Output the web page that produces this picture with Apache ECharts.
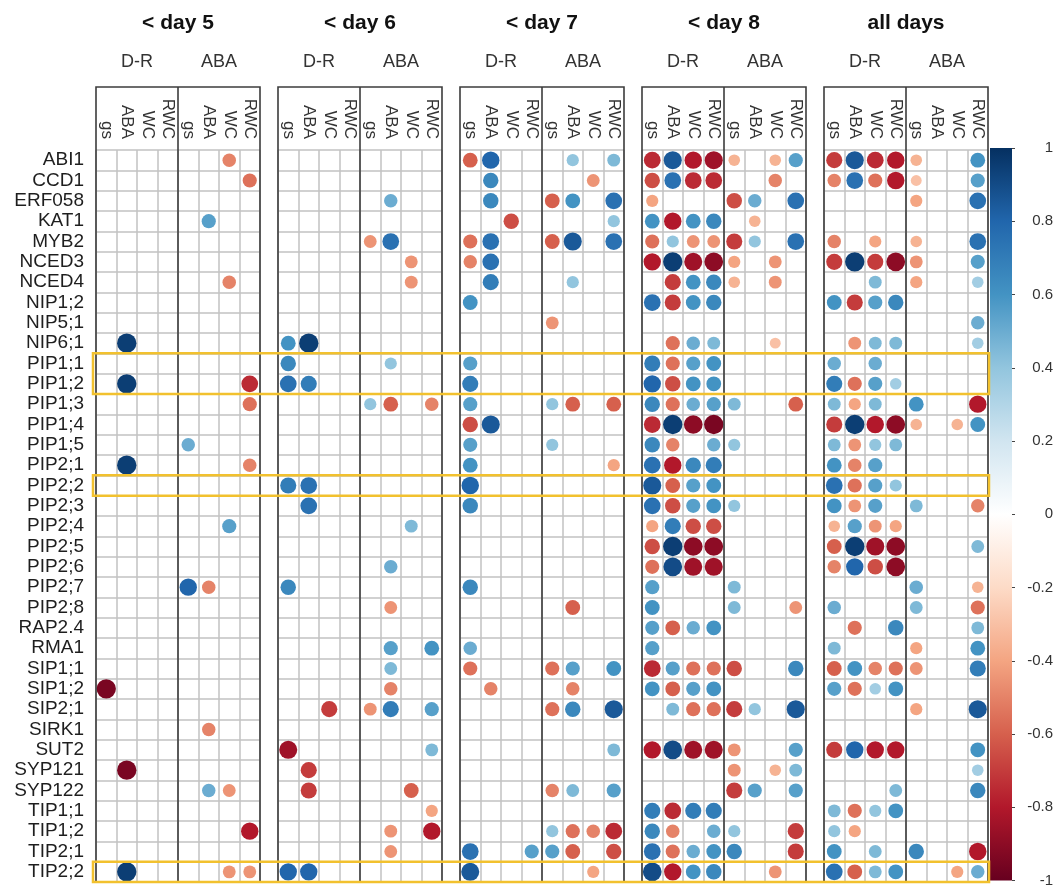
<!DOCTYPE html>
<html>
<head>
<meta charset="utf-8">
<script src="https://cdn.jsdelivr.net/npm/echarts@6.0.0/dist/echarts.min.js"></script>
<style>
  html, body { margin: 0; padding: 0; background: #fff; }
  #chart { width: 1063px; height: 888px; }
</style>
</head>
<body>
<div id="chart"></div>
<script>
// ---- data -------------------------------------------------------------
const genes = ['ABI1','CCD1','ERF058','KAT1','MYB2','NCED3','NCED4','NIP1;2','NIP5;1','NIP6;1',
  'PIP1;1','PIP1;2','PIP1;3','PIP1;4','PIP1;5','PIP2;1','PIP2;2','PIP2;3','PIP2;4','PIP2;5',
  'PIP2;6','PIP2;7','PIP2;8','RAP2.4','RMA1','SIP1;1','SIP1;2','SIP2;1','SIRK1','SUT2',
  'SYP121','SYP122','TIP1;1','TIP1;2','TIP2;1','TIP2;2'];
const periods = ['< day 5', '< day 6', '< day 7', '< day 8', 'all days'];
const treatments = ['D-R', 'ABA'];
const traits = ['gs', 'ABA', 'WC', 'RWC'];
const columns = treatments.flatMap(t => traits.map(v => t + ' ' + v));
const highlightGroups = [['PIP1;1', 'PIP1;2'], ['PIP2;2'], ['TIP2;2']];
const scaleRange = [-1, 1];
const scaleColors = ['#67001f','#b2182b','#d6604d','#f4a582','#fddbc7','#ffffff',
  '#d1e5f0','#92c5de','#4393c3','#2166ac','#053061'];

// correlations: [gene, column (0-3 D-R gs/ABA/WC/RWC, 4-7 ABA gs/ABA/WC/RWC), r]
const day5 = [
  ['ABI1',6,-0.5],['CCD1',7,-0.55],['KAT1',5,0.55],['NCED4',6,-0.5],['NIP6;1',1,0.95],
  ['PIP1;2',1,0.95],['PIP1;2',7,-0.75],['PIP1;3',7,-0.55],['PIP1;5',4,0.5],['PIP2;1',1,0.95],
  ['PIP2;1',7,-0.5],['PIP2;4',6,0.55],['PIP2;7',4,0.8],['PIP2;7',5,-0.5],['SIP1;2',0,-0.95],
  ['SIRK1',5,-0.5],['SYP121',1,-0.95],['SYP122',5,0.5],['SYP122',6,-0.45],['TIP1;2',7,-0.8],
  ['TIP2;2',1,0.95],['TIP2;2',6,-0.45],['TIP2;2',7,-0.45]
];
const day6 = [
  ['ERF058',5,0.5],['MYB2',4,-0.45],['MYB2',5,0.75],['NCED3',6,-0.45],['NCED4',6,-0.45],
  ['NIP6;1',0,0.6],['NIP6;1',1,0.95],['PIP1;1',0,0.65],['PIP1;1',5,0.4],['PIP1;2',0,0.75],
  ['PIP1;2',1,0.7],['PIP1;3',4,0.4],['PIP1;3',5,-0.6],['PIP1;3',7,-0.5],['PIP2;2',0,0.7],
  ['PIP2;2',1,0.75],['PIP2;3',1,0.75],['PIP2;4',6,0.45],['PIP2;6',5,0.5],['PIP2;7',0,0.65],
  ['PIP2;8',5,-0.45],['RMA1',5,0.55],['RMA1',7,0.6],['SIP1;1',5,0.45],['SIP1;2',5,-0.5],
  ['SIP2;1',2,-0.7],['SIP2;1',4,-0.45],['SIP2;1',5,0.7],['SIP2;1',7,0.55],['SUT2',0,-0.85],
  ['SUT2',7,0.45],['SYP121',1,-0.7],['SYP122',1,-0.7],['SYP122',6,-0.6],['TIP1;1',7,-0.4],
  ['TIP1;2',5,-0.45],['TIP1;2',7,-0.8],['TIP2;1',5,-0.45],['TIP2;2',0,0.8],['TIP2;2',1,0.8]
];
const day7 = [
  ['ABI1',0,-0.6],['ABI1',1,0.8],['ABI1',5,0.4],['ABI1',7,0.45],['CCD1',1,0.65],['CCD1',6,-0.45],
  ['ERF058',1,0.65],['ERF058',4,-0.6],['ERF058',5,0.6],['ERF058',7,0.75],['KAT1',2,-0.65],
  ['KAT1',7,0.4],['MYB2',0,-0.55],['MYB2',1,0.75],['MYB2',4,-0.6],['MYB2',5,0.85],['MYB2',7,0.75],
  ['NCED3',0,-0.5],['NCED3',1,0.75],['NCED4',1,0.7],['NCED4',5,0.4],['NIP1;2',0,0.6],
  ['NIP5;1',4,-0.45],['PIP1;1',0,0.55],['PIP1;2',0,0.7],['PIP1;3',0,0.55],['PIP1;3',4,0.4],
  ['PIP1;3',5,-0.6],['PIP1;3',7,-0.6],['PIP1;4',0,-0.65],['PIP1;4',1,0.85],['PIP1;5',0,0.55],
  ['PIP1;5',4,0.4],['PIP2;1',0,0.6],['PIP2;1',7,-0.4],['PIP2;2',0,0.8],['PIP2;3',0,0.65],
  ['PIP2;7',0,0.65],['PIP2;8',5,-0.6],['RMA1',0,0.5],['SIP1;1',0,-0.55],['SIP1;1',4,-0.55],
  ['SIP1;1',5,0.55],['SIP1;1',7,0.6],['SIP1;2',1,-0.5],['SIP1;2',5,-0.5],['SIP2;1',4,-0.55],
  ['SIP2;1',5,0.65],['SIP2;1',7,0.85],['SUT2',7,0.45],['SYP122',4,-0.5],['SYP122',5,0.45],
  ['SYP122',7,0.55],['TIP1;2',4,0.4],['TIP1;2',5,-0.55],['TIP1;2',6,-0.5],['TIP1;2',7,-0.75],
  ['TIP2;1',0,0.75],['TIP2;1',3,0.55],['TIP2;1',4,0.55],['TIP2;1',5,-0.6],['TIP2;1',7,-0.65],
  ['TIP2;2',0,0.85],['TIP2;2',6,-0.4]
];
const day8 = [
  ['ABI1',0,-0.75],['ABI1',1,0.85],['ABI1',2,-0.8],['ABI1',3,-0.85],['ABI1',4,-0.35],['ABI1',6,-0.35],['ABI1',7,0.55],
  ['CCD1',0,-0.65],['CCD1',1,0.75],['CCD1',2,-0.75],['CCD1',3,-0.75],['CCD1',6,-0.5],
  ['ERF058',0,-0.4],['ERF058',4,-0.65],['ERF058',5,0.5],['ERF058',7,0.75],
  ['KAT1',0,0.6],['KAT1',1,-0.8],['KAT1',2,0.6],['KAT1',3,0.65],['KAT1',5,-0.35],
  ['MYB2',0,-0.55],['MYB2',1,0.4],['MYB2',2,-0.45],['MYB2',3,-0.45],['MYB2',4,-0.7],['MYB2',5,0.4],['MYB2',7,0.75],
  ['NCED3',0,-0.8],['NCED3',1,0.95],['NCED3',2,-0.85],['NCED3',3,-0.9],['NCED3',4,-0.4],['NCED3',6,-0.45],
  ['NCED4',1,-0.7],['NCED4',2,0.6],['NCED4',3,0.65],['NCED4',4,-0.35],['NCED4',6,-0.45],
  ['NIP1;2',0,0.75],['NIP1;2',1,-0.7],['NIP1;2',2,0.6],['NIP1;2',3,0.65],
  ['NIP6;1',1,-0.55],['NIP6;1',2,0.5],['NIP6;1',3,0.45],['NIP6;1',6,-0.3],
  ['PIP1;1',0,0.7],['PIP1;1',1,-0.55],['PIP1;1',2,0.55],['PIP1;1',3,0.6],
  ['PIP1;2',0,0.8],['PIP1;2',1,-0.65],['PIP1;2',2,0.6],['PIP1;2',3,0.6],
  ['PIP1;3',0,0.65],['PIP1;3',1,-0.55],['PIP1;3',2,0.5],['PIP1;3',3,0.55],['PIP1;3',4,0.45],['PIP1;3',7,-0.6],
  ['PIP1;4',0,-0.75],['PIP1;4',1,0.95],['PIP1;4',2,-0.9],['PIP1;4',3,-0.95],
  ['PIP1;5',0,0.65],['PIP1;5',1,-0.5],['PIP1;5',3,0.5],['PIP1;5',4,0.4],
  ['PIP2;1',0,0.75],['PIP2;1',1,-0.8],['PIP2;1',2,0.65],['PIP2;1',3,0.7],
  ['PIP2;2',0,0.85],['PIP2;2',1,-0.6],['PIP2;2',2,0.55],['PIP2;2',3,0.6],
  ['PIP2;3',0,0.75],['PIP2;3',1,-0.65],['PIP2;3',2,0.55],['PIP2;3',3,0.6],['PIP2;3',4,0.4],
  ['PIP2;4',0,-0.4],['PIP2;4',1,0.7],['PIP2;4',2,-0.65],['PIP2;4',3,-0.65],
  ['PIP2;5',0,-0.65],['PIP2;5',1,0.95],['PIP2;5',2,-0.9],['PIP2;5',3,-0.9],
  ['PIP2;6',0,-0.55],['PIP2;6',1,0.9],['PIP2;6',2,-0.85],['PIP2;6',3,-0.85],
  ['PIP2;7',0,0.55],['PIP2;7',4,0.45],
  ['PIP2;8',0,0.6],['PIP2;8',4,0.45],['PIP2;8',7,-0.45],
  ['RAP2.4',0,0.55],['RAP2.4',1,-0.6],['RAP2.4',2,0.5],['RAP2.4',3,0.6],
  ['RMA1',0,0.55],
  ['SIP1;1',0,-0.75],['SIP1;1',1,0.55],['SIP1;1',2,-0.55],['SIP1;1',3,-0.55],['SIP1;1',4,-0.65],['SIP1;1',7,0.65],
  ['SIP1;2',0,0.6],['SIP1;2',1,-0.6],['SIP1;2',2,0.55],['SIP1;2',3,0.6],
  ['SIP2;1',1,0.45],['SIP2;1',2,-0.55],['SIP2;1',3,-0.55],['SIP2;1',4,-0.7],['SIP2;1',5,0.4],['SIP2;1',7,0.85],
  ['SUT2',0,-0.8],['SUT2',1,0.9],['SUT2',2,-0.85],['SUT2',3,-0.85],['SUT2',4,-0.45],['SUT2',7,0.55],
  ['SYP121',4,-0.45],['SYP121',6,-0.35],['SYP121',7,0.45],
  ['SYP122',4,-0.7],['SYP122',5,0.55],['SYP122',7,0.55],
  ['TIP1;1',0,0.7],['TIP1;1',1,-0.75],['TIP1;1',2,0.7],['TIP1;1',3,0.7],
  ['TIP1;2',0,0.65],['TIP1;2',1,-0.5],['TIP1;2',3,0.5],['TIP1;2',4,0.4],['TIP1;2',7,-0.7],
  ['TIP2;1',0,0.75],['TIP2;1',1,-0.55],['TIP2;1',2,0.5],['TIP2;1',3,0.6],['TIP2;1',4,0.65],['TIP2;1',7,-0.7],
  ['TIP2;2',0,0.9],['TIP2;2',1,-0.8],['TIP2;2',2,0.6],['TIP2;2',3,0.65],['TIP2;2',6,-0.45]
];
const allDays = [
  ['ABI1',0,-0.7],['ABI1',1,0.85],['ABI1',2,-0.75],['ABI1',3,-0.8],['ABI1',4,-0.35],['ABI1',7,0.6],
  ['CCD1',0,-0.5],['CCD1',1,0.75],['CCD1',2,-0.55],['CCD1',3,-0.8],['CCD1',4,-0.3],['CCD1',7,0.55],
  ['ERF058',4,-0.4],['ERF058',7,0.75],
  ['MYB2',0,-0.5],['MYB2',2,-0.4],['MYB2',4,-0.35],['MYB2',7,0.75],
  ['NCED3',0,-0.7],['NCED3',1,0.95],['NCED3',2,-0.7],['NCED3',3,-0.9],['NCED3',4,-0.45],['NCED3',7,0.55],
  ['NCED4',2,0.45],['NCED4',4,-0.4],['NCED4',7,0.35],
  ['NIP1;2',0,0.6],['NIP1;2',1,-0.7],['NIP1;2',2,0.55],['NIP1;2',3,0.65],
  ['NIP5;1',7,0.5],
  ['NIP6;1',1,-0.45],['NIP6;1',2,0.45],['NIP6;1',3,0.45],['NIP6;1',7,0.35],
  ['PIP1;1',0,0.5],['PIP1;1',2,0.5],
  ['PIP1;2',0,0.7],['PIP1;2',1,-0.55],['PIP1;2',2,0.55],['PIP1;2',3,0.35],
  ['PIP1;3',0,0.45],['PIP1;3',1,-0.4],['PIP1;3',2,0.45],['PIP1;3',4,0.6],['PIP1;3',7,-0.8],
  ['PIP1;4',0,-0.7],['PIP1;4',1,0.95],['PIP1;4',2,-0.8],['PIP1;4',3,-0.9],['PIP1;4',4,-0.35],['PIP1;4',6,-0.35],['PIP1;4',7,0.6],
  ['PIP1;5',0,0.45],['PIP1;5',1,-0.45],['PIP1;5',2,0.4],['PIP1;5',3,0.45],
  ['PIP2;1',0,0.6],['PIP2;1',1,-0.5],['PIP2;1',2,0.55],
  ['PIP2;2',0,0.75],['PIP2;2',1,-0.55],['PIP2;2',2,0.55],['PIP2;2',3,0.4],
  ['PIP2;3',0,0.6],['PIP2;3',1,-0.45],['PIP2;3',2,0.55],['PIP2;3',4,0.45],['PIP2;3',7,-0.5],
  ['PIP2;4',0,-0.35],['PIP2;4',1,0.55],['PIP2;4',2,-0.45],['PIP2;4',3,-0.4],
  ['PIP2;5',0,-0.6],['PIP2;5',1,0.95],['PIP2;5',2,-0.85],['PIP2;5',3,-0.9],['PIP2;5',7,0.45],
  ['PIP2;6',0,-0.5],['PIP2;6',1,0.8],['PIP2;6',2,-0.65],['PIP2;6',3,-0.9],
  ['PIP2;7',4,0.5],['PIP2;7',7,-0.35],
  ['PIP2;8',0,0.5],['PIP2;8',4,0.45],['PIP2;8',7,-0.55],
  ['RAP2.4',1,-0.55],['RAP2.4',3,0.65],['RAP2.4',7,0.45],
  ['RMA1',0,0.45],['RMA1',4,-0.4],['RMA1',7,0.6],
  ['SIP1;1',0,-0.6],['SIP1;1',1,0.6],['SIP1;1',2,-0.5],['SIP1;1',3,-0.55],['SIP1;1',4,-0.45],['SIP1;1',7,0.7],
  ['SIP1;2',0,0.55],['SIP1;2',1,-0.55],['SIP1;2',2,0.35],['SIP1;2',3,0.6],
  ['SIP2;1',4,-0.4],['SIP2;1',7,0.85],
  ['SUT2',0,-0.7],['SUT2',1,0.8],['SUT2',2,-0.8],['SUT2',3,-0.8],['SUT2',7,0.6],
  ['SYP121',7,0.35],
  ['SYP122',3,0.45],['SYP122',7,0.65],
  ['TIP1;1',0,0.45],['TIP1;1',1,-0.55],['TIP1;1',2,0.4],['TIP1;1',3,0.6],
  ['TIP1;2',0,0.4],['TIP1;2',1,-0.4],
  ['TIP2;1',0,0.6],['TIP2;1',2,0.45],['TIP2;1',4,0.65],['TIP2;1',7,-0.8],
  ['TIP2;2',0,0.75],['TIP2;2',1,-0.6],['TIP2;2',2,0.45],['TIP2;2',3,0.6],['TIP2;2',6,-0.4],['TIP2;2',7,0.5]
];
const panelData = [day5, day6, day7, day8, allDays];

// ---- layout -----------------------------------------------------------
const FONT = '"Liberation Sans", Arial, sans-serif';
const PANEL_X0 = 96, PANEL_STEP = 182, PANEL_W = 164;
const HEAD_TOP = 87, GRID_TOP = 150, GRID_H = 732;
const ROW_H = GRID_H / genes.length;
const BAR_X = 990, BAR_W = 22, BAR_TOP = 148, BAR_H = 734;
const panelLeft = i => PANEL_X0 + i * PANEL_STEP;

const grids = [], xAxes = [], yAxes = [], series = [], graphics = [];

periods.forEach((p, i) => {
  const x0 = panelLeft(i);
  grids.push({ left: x0, top: GRID_TOP, width: PANEL_W, height: GRID_H });
  xAxes.push({
    type: 'category', gridIndex: i, data: columns, position: 'top',
    axisLine: { show: false }, axisTick: { show: false },
    axisLabel: {
      interval: 0, hideOverlap: false, rotate: 90, margin: 11,
      fontFamily: FONT, fontSize: 17, color: '#333',
      formatter: v => v.split(' ')[1]
    },
    splitLine: { show: true, interval: 0, lineStyle: { color: '#c2c2c2', width: 1.5 } }
  });
  yAxes.push({
    type: 'category', gridIndex: i, data: genes, inverse: true,
    axisLine: { show: false }, axisTick: { show: false },
    axisLabel: {
      show: i === 0, interval: 0, margin: 12, fontFamily: FONT, fontSize: 19, color: '#1e1e1e'
    },
    splitLine: { show: true, interval: 0, lineStyle: { color: '#c2c2c2', width: 1.5 } }
  });
  series.push({
    type: 'scatter', xAxisIndex: i, yAxisIndex: i, z: 5,
    data: panelData[i].map(([g, c, r]) => [c, g, r]),
    symbolSize: v => 7 + 13 * Math.abs(v[2]),
    itemStyle: { opacity: 1 }
  });

  // panel frame, header box and treatment divider
  graphics.push({
    type: 'rect', z: 20, silent: true,
    shape: { x: x0, y: HEAD_TOP, width: PANEL_W, height: GRID_TOP + GRID_H - HEAD_TOP },
    style: { fill: 'none', stroke: '#3c3c3c', lineWidth: 1.6 }
  });
  graphics.push({
    type: 'line', z: 20, silent: true,
    shape: { x1: x0 + PANEL_W / 2, y1: HEAD_TOP, x2: x0 + PANEL_W / 2, y2: GRID_TOP + GRID_H },
    style: { stroke: '#3c3c3c', lineWidth: 1.6 }
  });
  graphics.push({
    type: 'text', z: 20, silent: true, x: x0 + PANEL_W / 2, y: 23,
    style: { text: p, font: 'bold 21px ' + FONT, fill: '#111', align: 'center', verticalAlign: 'middle' }
  });
  treatments.forEach((t, k) => {
    graphics.push({
      type: 'text', z: 20, silent: true, x: x0 + PANEL_W * (k + 0.5) / 2, y: 62,
      style: { text: t, font: '18px ' + FONT, fill: '#333', align: 'center', verticalAlign: 'middle' }
    });
  });
});

// highlighted gene rows
highlightGroups.forEach(grp => {
  const r0 = genes.indexOf(grp[0]);
  graphics.push({
    type: 'rect', z: 30, silent: true,
    shape: { x: PANEL_X0 - 3, y: GRID_TOP + r0 * ROW_H, width: BAR_X - PANEL_X0 + 2, height: grp.length * ROW_H },
    style: { fill: 'none', stroke: '#f2c12e', lineWidth: 2.5 }
  });
});

// colour bar grid
const cb = periods.length;
grids.push({ left: BAR_X, top: BAR_TOP, width: BAR_W, height: BAR_H });
xAxes.push({ type: 'category', gridIndex: cb, data: ['r'], show: false });
yAxes.push({
  type: 'value', gridIndex: cb, position: 'right', min: scaleRange[0], max: scaleRange[1], interval: 0.2,
  axisLine: { show: false }, splitLine: { show: false },
  axisTick: { show: true, length: 3, lineStyle: { color: '#444' } },
  axisLabel: {
    margin: 41, align: 'right', fontFamily: FONT, fontSize: 15, color: '#333',
    formatter: v => String(+v.toFixed(1))
  }
});
series.push({
  type: 'custom', xAxisIndex: cb, yAxisIndex: cb, silent: true,
  data: [[0, scaleRange[0], scaleRange[1]]],
  renderItem: (params, api) => {
    const top = api.coord([api.value(0), api.value(2)]);
    const bot = api.coord([api.value(0), api.value(1)]);
    const w = api.size([1, 0])[0];
    const stops = scaleColors.slice().reverse().map((c, k, a) => ({ offset: k / (a.length - 1), color: c }));
    return {
      type: 'rect',
      shape: { x: top[0] - w / 2, y: top[1], width: w, height: bot[1] - top[1] },
      style: { fill: new echarts.graphic.LinearGradient(0, 0, 0, 1, stops) }
    };
  }
});

const chart = echarts.init(document.getElementById('chart'), null, { renderer: 'canvas' });
chart.setOption({
  animation: false,
  backgroundColor: '#ffffff',
  grid: grids,
  xAxis: xAxes,
  yAxis: yAxes,
  visualMap: {
    type: 'continuous', show: false, min: scaleRange[0], max: scaleRange[1], dimension: 2,
    seriesIndex: periods.map((_, i) => i),
    inRange: { color: scaleColors }
  },
  graphic: graphics,
  series: series
});
</script>
</body>
</html>
